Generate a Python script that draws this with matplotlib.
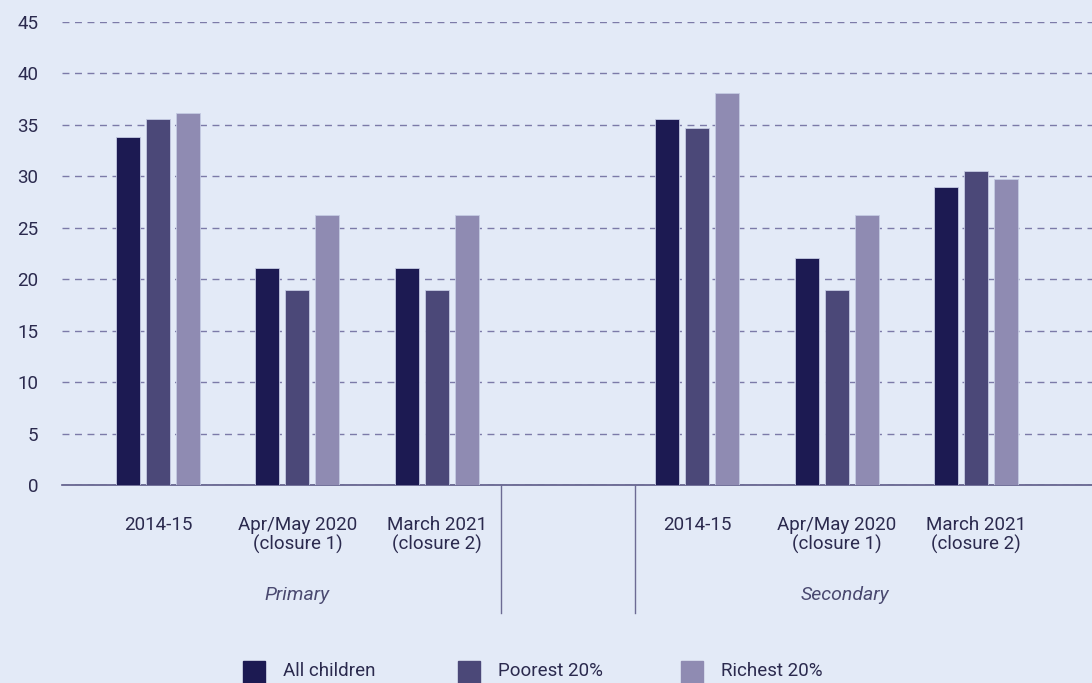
import numpy as np
import matplotlib.pyplot as plt
from matplotlib.patches import Rectangle

plt.rcParams['font.family'] = ['Roboto', 'DejaVu Sans']

# Datos
periods = ['2014-15', 'Apr/May 2020\n(closure 1)', 'March 2021\n(closure 2)']
phases = ['Primary', 'Secondary']
series = ['All children', 'Poorest 20%', 'Richest 20%']
colors = ['#1c1a52', '#4b4878', '#8f8bb2']

primary_all = [33.8, 21.1, 21.1]
primary_poor = [35.6, 19.0, 19.0]
primary_rich = [36.2, 26.2, 26.2]
secondary_all = [35.6, 22.1, 29.0]
secondary_poor = [34.7, 19.0, 30.5]
secondary_rich = [38.1, 26.2, 29.7]

values = {
    'Primary': [primary_all, primary_poor, primary_rich],
    'Secondary': [secondary_all, secondary_poor, secondary_rich],
}

bg = '#e3eaf7'
text_col = '#2b2a4e'

fig = plt.figure(figsize=(10.92, 6.83), dpi=100, facecolor=bg)
ax = fig.add_axes([62 / 1092, 1 - 485 / 683, 1 - 62 / 1092, (485 - 22) / 683])
ax.set_facecolor(bg)

group_start = {'Primary': 0.0, 'Secondary': 3.864}
width = 0.172
step = 0.215

xticks, xlabels = [], []
for phase in phases:
    base = np.arange(len(periods)) + group_start[phase]
    for i, (s, c) in enumerate(zip(series, colors)):
        ax.bar(base + (i - 1) * step, values[phase][i], width, color=c,
               edgecolor='#c5cbe3', linewidth=0.6, zorder=3)
    xticks += list(base)
    xlabels += periods

ax.set_ylim(0, 45)
ax.set_xlim(-0.688, 6.695)
ax.set_yticks(range(0, 50, 5))
ax.yaxis.grid(True, linestyle=(0, (5, 4)), color='#7c7aa8', linewidth=1, zorder=0)
for sp in ['top', 'right', 'left']:
    ax.spines[sp].set_visible(False)
ax.spines['bottom'].set_color('#5d5b88')
ax.spines['bottom'].set_linewidth(1.2)
ax.tick_params(axis='y', length=0, pad=17, labelsize=13.5, labelcolor=text_col)
ax.set_xticks(xticks)
ax.set_xticklabels(xlabels, fontsize=13.5, color=text_col, linespacing=1.1, va='top')
ax.tick_params(axis='x', length=0, pad=22)

# separadores y etiquetas de grupo
for xpx in [501, 635]:
    fig.add_artist(plt.Line2D([xpx / 1092] * 2, [1 - 485 / 683, 1 - 613 / 683],
                              color='#6d6b94', linewidth=1))
fig.text(297 / 1092, 1 - 595 / 683, 'Primary', style='italic', fontsize=14,
         color='#4a4970', ha='center', va='center')
fig.text(845 / 1092, 1 - 595 / 683, 'Secondary', style='italic', fontsize=14,
         color='#4a4970', ha='center', va='center')

# leyenda
for xpx, s, c in zip([243, 458, 681], series, colors):
    fig.add_artist(Rectangle((xpx / 1092, 1 - 683 / 683), 22 / 1092, 22 / 683,
                             transform=fig.transFigure, color=c))
    fig.text((xpx + 40) / 1092, 1 - 671 / 683, s, fontsize=13.5, color=text_col,
             ha='left', va='center')

fig.savefig('out.png', dpi=100, facecolor=bg)
